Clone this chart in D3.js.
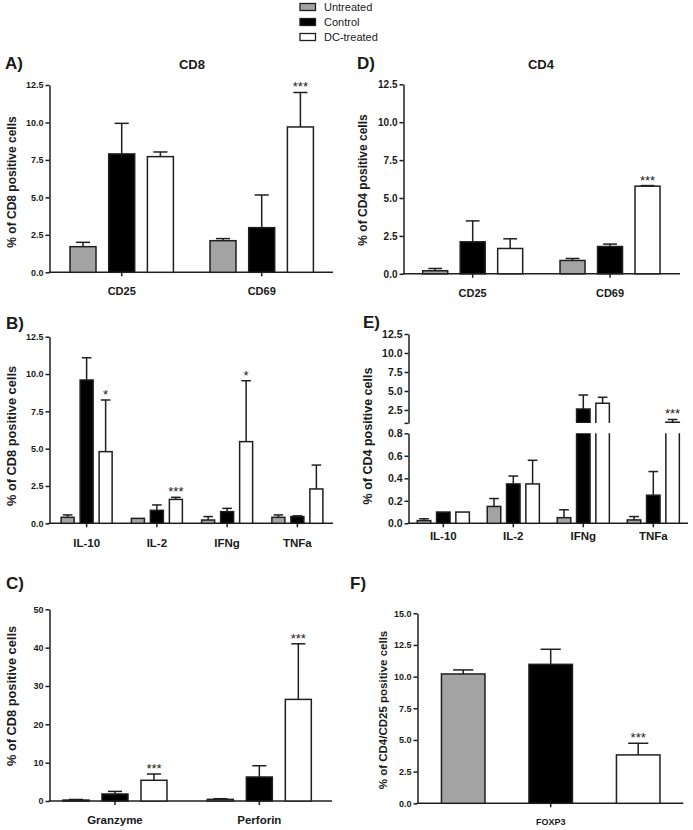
<!DOCTYPE html>
<html>
<head>
<meta charset="utf-8">
<script src="https://cdn.jsdelivr.net/npm/d3@7"></script>
<style>
  html, body { margin: 0; padding: 0; background: #fff; }
  svg text { font-family: Arial, "Liberation Sans", sans-serif; fill: #1a1a1a; }
</style>
</head>
<body>
<script>
// ---------- DATA ----------
const series = ["Untreated", "Control", "DC-treated"];
const seriesFill = ["#a3a3a3", "#000000", "#ffffff"];

// A) CD8 surface markers
const aCats = ["CD25", "CD69"];
const aMean = [[1.71, 2.11], [7.9, 2.98], [7.72, 9.7]];
const aUpper = [[2.0, 2.25], [9.94, 5.16], [8.03, 12.0]];
const aStars = [["", ""], ["", ""], ["", "***"]];

// B) CD8 cytokines
const bCats = ["IL-10", "IL-2", "IFNg", "TNFa"];
const bMean = [[0.4, 0.33, 0.22, 0.4], [9.6, 0.87, 0.78, 0.45], [4.8, 1.6, 5.47, 2.3]];
const bUpper = [[0.56, null, 0.45, 0.56], [11.09, 1.23, 1.0, 0.5], [8.26, 1.74, 9.55, 3.9]];
const bStars = [["", "", "", ""], ["", "", "", ""], ["*", "***", "*", ""]];

// C) CD8 cytotoxic
const cCats = ["Granzyme", "Perforin"];
const cMean = [[0.25, 0.43], [1.83, 6.26], [5.4, 26.5]];
const cUpper = [[0.4, 0.6], [2.5, 9.2], [7.04, 41.0]];
const cStars = [["", ""], ["", ""], ["***", "***"]];

// D) CD4 surface markers
const dCats = ["CD25", "CD69"];
const dMean = [[0.2, 0.88], [2.11, 1.8], [1.67, 5.78]];
const dUpper = [[0.35, 1.01], [3.49, 1.96], [2.31, 5.82]];
const dStars = [["", ""], ["", ""], ["", "***"]];

// E) CD4 cytokines (broken axis)
const eCats = ["IL-10", "IL-2", "IFNg", "TNFa"];
const eMean = [[0.024, 0.15, 0.05, 0.03], [0.1, 0.35, 2.63, 0.25], [0.1, 0.35, 3.38, 0.88]];
const eUpper = [[0.04, 0.22, 0.12, 0.06], [null, 0.42, 4.47, 0.46], [null, 0.56, 4.17, 1.25]];
const eStars = [["", "", "", ""], ["", "", "", ""], ["", "", "", "***"]];

// F) FOXP3
const fCats = ["FOXP3"];
const fMean = [[10.21], [10.97], [3.82]];
const fUpper = [[10.53], [12.16], [4.74]];
const fStars = [[""], [""], ["***"]];

// tick values
const ticks125 = [0, 2.5, 5, 7.5, 10, 12.5];
const ticks50 = [0, 10, 20, 30, 40, 50];
const ticks15 = [0, 2.5, 5, 7.5, 10, 12.5, 15];
const ticksEUpper = [0.8, 2.5, 5, 7.5, 10, 12.5];
const ticksELower = [0, 0.2, 0.4, 0.6, 0.8];

// ---------- DRAWING ----------
const W = 693, H = 830;
const svg = d3.select("body").append("svg").attr("width", W).attr("height", H);
const INK = "#1f1f1f";

function styleAxis(sel, fontSize) {
  sel.selectAll("path, line").attr("stroke", INK).attr("stroke-width", 1.5);
  sel.selectAll("text").attr("font-size", fontSize).attr("font-weight", "bold").attr("fill", INK)
     .style("font-family", "Arial, 'Liberation Sans', sans-serif");
}

function panel(cfg) {
  const g = svg.append("g");
  const x = d3.scaleBand().domain(cfg.cats).range(cfg.catRange);
  const p = 1 - cfg.barW / cfg.step;
  const xi = d3.scaleBand().domain(series)
    .range([-1.5 * cfg.step, 1.5 * cfg.step]).paddingInner(p).paddingOuter(p / 2);
  const cx = c => x(c) + x.bandwidth() / 2;

  let yf, yBase, yL, yU;
  if (cfg.broken) {
    yL = d3.scaleLinear().domain([0, cfg.breakAt]).range(cfg.lowRange);
    yU = d3.scaleLinear().domain([cfg.breakAt, cfg.upMax]).range(cfg.upRange);
    yf = v => v <= cfg.breakAt ? yL(v) : yU(v);
    yBase = yL(0);
    const aU = g.append("g").attr("transform", `translate(${cfg.ax},0)`)
      .call(d3.axisLeft(yU).tickValues(cfg.ticksUp)
        .tickFormat(d => d === cfg.breakAt ? "" : d3.format(".1f")(d))
        .tickSize(4).tickPadding(2).tickSizeOuter(0));
    styleAxis(aU, cfg.tickFont);
    const aL = g.append("g").attr("transform", `translate(${cfg.ax},0)`)
      .call(d3.axisLeft(yL).tickValues(cfg.ticksLow).tickFormat(d3.format(".1f"))
        .tickSize(4).tickPadding(2).tickSizeOuter(0));
    styleAxis(aL, cfg.tickFont);
  } else {
    const y = d3.scaleLinear().domain(cfg.domain).range(cfg.yRange);
    yf = y;
    yBase = y(0);
    const a = g.append("g").attr("transform", `translate(${cfg.ax},0)`)
      .call(d3.axisLeft(y).tickValues(cfg.ticks).tickFormat(d3.format(cfg.fmt))
        .tickSize(4).tickPadding(2).tickSizeOuter(0));
    styleAxis(a, cfg.tickFont);
  }

  // x axis line
  g.append("line").attr("x1", cfg.ax - 0.75).attr("x2", cfg.right)
    .attr("y1", yBase).attr("y2", yBase).attr("stroke", INK).attr("stroke-width", 1.5);

  // category ticks and labels
  cfg.cats.forEach(c => {
    g.append("line").attr("x1", cx(c)).attr("x2", cx(c)).attr("y1", yBase).attr("y2", yBase + 4)
      .attr("stroke", INK).attr("stroke-width", 1.5);
    g.append("text").attr("x", cx(c)).attr("y", cfg.labelY).attr("text-anchor", "middle")
      .attr("font-size", cfg.catFont).attr("font-weight", "bold").text(c);
  });

  // bars
  const capW = 5 + 0.35 * cfg.barW;
  series.forEach((s, si) => {
    cfg.cats.forEach((c, ci) => {
      const m = cfg.mean[si][ci];
      const up = cfg.upper[si][ci];
      const bx = cx(c) + xi(s);
      const bw = xi.bandwidth();
      const fill = seriesFill[si];
      if (cfg.broken && m > cfg.breakAt) {
        const lt = yL(cfg.breakAt), lb = yL(0);
        g.append("rect").attr("x", bx).attr("y", lt).attr("width", bw).attr("height", lb - lt).attr("fill", fill);
        g.append("path").attr("d", `M${bx},${lt}V${lb}H${bx + bw}V${lt}`)
          .attr("fill", "none").attr("stroke", INK).attr("stroke-width", 1.5);
        const ut = yU(m), ub = yU(cfg.breakAt);
        g.append("rect").attr("x", bx).attr("y", ut).attr("width", bw).attr("height", ub - ut).attr("fill", fill);
        g.append("path").attr("d", `M${bx},${ub}V${ut}H${bx + bw}V${ub}`)
          .attr("fill", "none").attr("stroke", INK).attr("stroke-width", 1.5);
      } else {
        g.append("rect").attr("x", bx).attr("y", yf(m)).attr("width", bw)
          .attr("height", Math.max(0, yBase - yf(m)))
          .attr("fill", fill).attr("stroke", INK).attr("stroke-width", 1.5);
      }
      const ccx = bx + bw / 2;
      let topY = yf(m);
      if (up !== null && up !== undefined && up > m) {
        g.append("line").attr("x1", ccx).attr("x2", ccx).attr("y1", yf(m)).attr("y2", yf(up))
          .attr("stroke", INK).attr("stroke-width", 1.5);
        g.append("line").attr("x1", ccx - capW / 2).attr("x2", ccx + capW / 2)
          .attr("y1", yf(up)).attr("y2", yf(up)).attr("stroke", INK).attr("stroke-width", 1.5);
        topY = yf(up);
      }
      const st = cfg.stars[si][ci];
      if (st) {
        g.append("text").attr("x", ccx).attr("y", topY - 1).attr("text-anchor", "middle")
          .attr("font-size", 13).attr("fill", "#333").text(st);
      }
    });
  });

  // panel letter
  g.append("text").attr("x", cfg.letterX).attr("y", cfg.letterY).attr("font-size", 17)
    .attr("font-weight", "bold").text(cfg.letter);
  // title
  if (cfg.title) {
    g.append("text").attr("x", cfg.titleX).attr("y", cfg.titleY).attr("text-anchor", "middle")
      .attr("font-size", 13).attr("font-weight", "bold").text(cfg.title);
  }
  // y label
  g.append("text").attr("transform", `translate(${cfg.ylabX},${cfg.ylabY}) rotate(-90)`)
    .attr("text-anchor", "middle").attr("font-size", cfg.ylabFont).attr("font-weight", "bold")
    .text(cfg.ylab);
}

// A
panel({cats: aCats, mean: aMean, upper: aUpper, stars: aStars,
  catRange: [51.7, 331.7], step: 38.7, barW: 26,
  domain: [0, 12.5], yRange: [272.3, 85], ticks: ticks125, fmt: ".1f",
  ax: 49.5, right: 333, tickFont: 9, catFont: 11, labelY: 295,
  letter: "A)", letterX: 5, letterY: 69, title: "CD8", titleX: 192, titleY: 69,
  ylab: "% of CD8 positive cells", ylabX: 16, ylabY: 182, ylabFont: 12});

// B
panel({cats: bCats, mean: bMean, upper: bUpper, stars: bStars,
  catRange: [51.5, 332.5], step: 19, barW: 13,
  domain: [0, 12.5], yRange: [523.3, 336.7], ticks: ticks125, fmt: ".1f",
  ax: 49.5, right: 333, tickFont: 9, catFont: 11.5, labelY: 546.5,
  letter: "B)", letterX: 6, letterY: 329,
  ylab: "% of CD8 positive cells", ylabX: 16, ylabY: 436, ylabFont: 12.8});

// C
panel({cats: cCats, mean: cMean, upper: cUpper, stars: cStars,
  catRange: [42.8, 331.5], step: 39, barW: 26,
  domain: [0, 50], yRange: [801, 609.3], ticks: ticks50, fmt: "d",
  ax: 49.5, right: 332, tickFont: 9, catFont: 11.5, labelY: 824,
  letter: "C)", letterX: 6, letterY: 589,
  ylab: "% of CD8 positive cells", ylabX: 16, ylabY: 696, ylabFont: 12.8});

// D
panel({cats: dCats, mean: dMean, upper: dUpper, stars: dStars,
  catRange: [404, 678.7], step: 37.5, barW: 25,
  domain: [0, 12.5], yRange: [273.8, 84.3], ticks: ticks125, fmt: ".1f",
  ax: 403.5, right: 680, tickFont: 10, catFont: 11, labelY: 297,
  letter: "D)", letterX: 357, letterY: 69, title: "CD4", titleX: 541, titleY: 69,
  ylab: "% of CD4 positive cells", ylabX: 367, ylabY: 180, ylabFont: 12});

// E
panel({cats: eCats, mean: eMean, upper: eUpper, stars: eStars,
  catRange: [408.3, 688.3], step: 19.3, barW: 13.5,
  broken: true, breakAt: 0.8, upMax: 12.5,
  lowRange: [523.3, 433.3], upRange: [422.9, 334],
  ticksUp: ticksEUpper, ticksLow: ticksELower,
  ax: 408.5, right: 688, tickFont: 10.5, catFont: 11.5, labelY: 539.5,
  letter: "E)", letterX: 363, letterY: 328,
  ylab: "% of CD4 positive cells", ylabX: 372, ylabY: 436, ylabFont: 12.5});

// F
panel({cats: fCats, mean: fMean, upper: fUpper, stars: fStars,
  catRange: [417.3, 684.1], step: 87.5, barW: 43.5,
  domain: [0, 15], yRange: [803.3, 613.3], ticks: ticks15, fmt: ".1f",
  ax: 417.5, right: 683.3, tickFont: 9, catFont: 9, labelY: 825,
  letter: "F)", letterX: 350, letterY: 589,
  ylab: "% of CD4/CD25 positive cells", ylabX: 387, ylabY: 710, ylabFont: 11.5});

// Legend
const legend = svg.append("g");
series.forEach((s, i) => {
  const top = 3.5 + i * 15;
  legend.append("rect").attr("x", 300).attr("y", top).attr("width", 15.5).attr("height", 7)
    .attr("fill", seriesFill[i]).attr("stroke", INK).attr("stroke-width", 1.3);
  legend.append("text").attr("x", 324).attr("y", top + 7.8).attr("font-size", 11).attr("fill", "#222").text(s);
});
</script>
</body>
</html>
